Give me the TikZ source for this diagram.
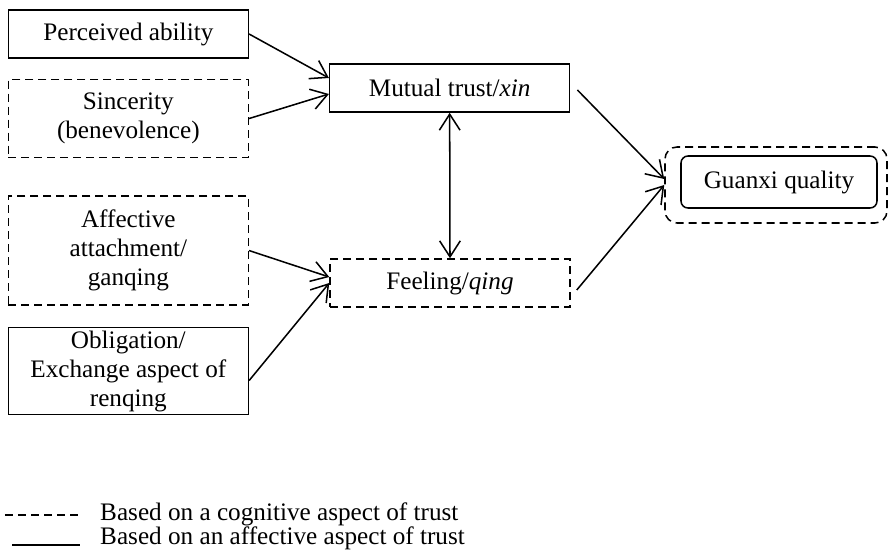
\documentclass[tikz,border=0pt]{standalone}
\usepackage{fontspec}
\setmainfont{Liberation Serif}
\usepackage{tikz}
\usetikzlibrary{positioning, arrows.meta}

\begin{document}
\begin{tikzpicture}[node distance=0.6cm,
  every node/.style={font=\fontsize{21.5}{24.7}\selectfont},
  box/.style={draw, line width=1.3pt, align=center, minimum width=7.2cm, inner sep=2pt},
  dbox/.style={box, dashed, dash pattern=on 0.24cm off 0.15cm},
  >={Straight Barb[length=0.48cm, width=0.62cm]},
  arr/.style={line width=1.3pt, ->}]
  \useasboundingbox (0,0) rectangle (26.67,-16.59);

  % left column
  \node[box, minimum height=1.44cm] (pa) at (3.85,-1.02) {Perceived ability};
  \node[dbox, minimum height=2.34cm, below=0.6cm of pa] (sin) {Sincerity\\(benevolence)};
  \node[dbox, minimum height=3.27cm, below=1.11cm of sin] (aff) {Affective\\attachment/\\ganqing};
  \node[box, minimum height=2.61cm, below=0.63cm of aff] (obl) {Obligation/\\Exchange aspect of\\renqing};

  % middle and right
  \node[box, minimum height=1.44cm] (xin) at (13.49,-2.64) {Mutual trust/\textit{xin}};
  \node[dbox, minimum height=1.44cm] (qing) at (13.5,-8.49) {Feeling/\textit{qing}};
  \node[dbox, rounded corners=0.36cm, minimum width=6.66cm, minimum height=2.28cm] (gqo) at (23.28,-5.55) {};
  \node[box, rounded corners=0.21cm, minimum width=5.88cm, minimum height=1.56cm] (gq) at (23.37,-5.46) {Guanxi quality};

  \draw[arr] (pa.east) -- ([yshift=0.3cm]xin.west);
  \draw[arr] (sin.east) -- ([yshift=-0.18cm]xin.west);
  \draw[arr] (aff.east) -- ([yshift=0.18cm]qing.west);
  \draw[arr] ([yshift=-0.285cm]obl.east) -- (qing.west);
  \draw[arr, <->] (xin.south) -- (qing.north);
  \draw[arr] ([xshift=0.21cm,yshift=-0.06cm]xin.east) -- ([yshift=0.18cm]gqo.west);
  \draw[arr] ([xshift=0.18cm,yshift=-0.21cm]qing.east) -- (gqo.west);

  % legend
  \coordinate (d1) at (0.15,-15.45);
  \coordinate (d2) at (2.34,-15.45);
  \coordinate (s1) at (0.36,-16.35);
  \coordinate (s2) at (2.4,-16.35);
  \draw[line width=1.1pt, dashed, dash pattern=on 0.24cm off 0.15cm] (d1) -- (d2);
  \draw[line width=1.3pt] (s1) -- (s2);
  \node[anchor=west, inner sep=0pt] (cog) at (3.0,-15.42) {Based on a cognitive aspect of trust};
  \node[anchor=west, inner sep=0pt] (aft) at (3.0,-16.14) {Based on an affective aspect of trust};
\end{tikzpicture}
\end{document}
